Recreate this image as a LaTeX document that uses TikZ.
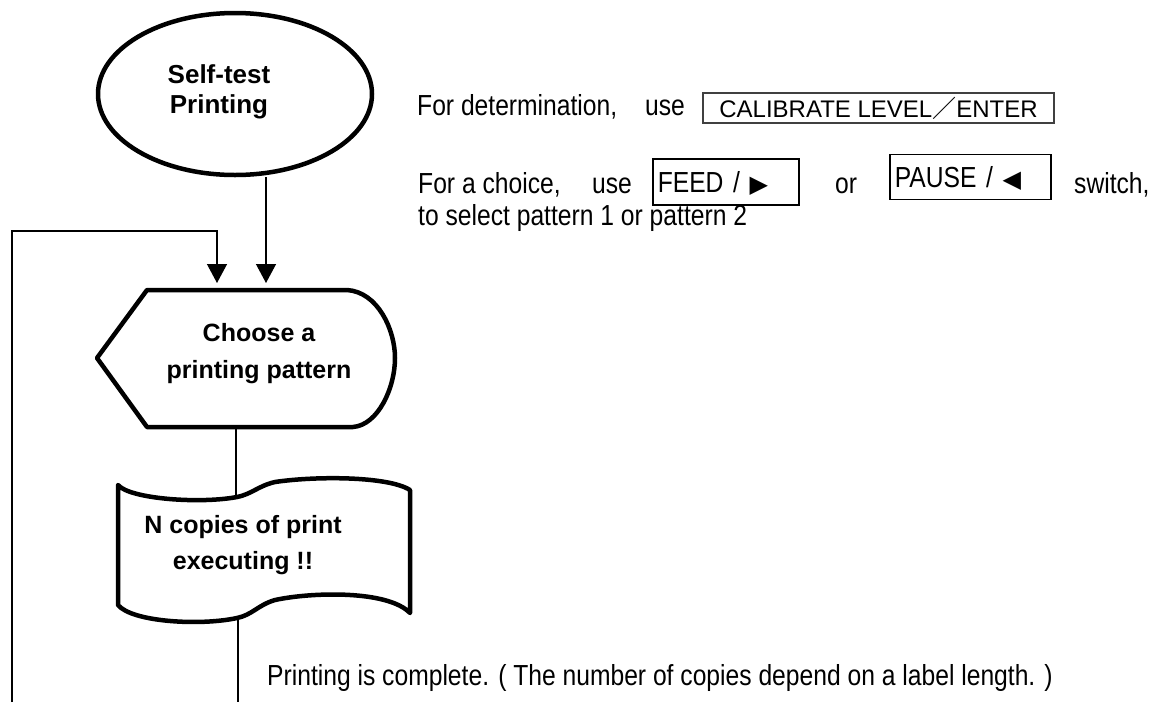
\documentclass[tikz,border=0pt]{standalone}
\usepackage{fontspec}
\setmainfont{Liberation Sans}
\newfontfamily\narrowfont[FakeStretch=0.85]{Liberation Sans}
\newfontfamily\cjkfont{Noto Sans CJK JP}
\newfontfamily\symfont{DejaVu Sans}
\usetikzlibrary{shapes.geometric,arrows.meta}

\tikzset{
  flow/.style={line width=1.3pt, -{Triangle[width=20pt,length=19pt]}},
  link/.style={line width=1.3pt},
  outline/.style={line width=4.5pt, line join=round},
  boldtxt/.style={font=\fontsize{25}{37}\selectfont\bfseries, align=center, inner sep=0pt},
  plaintxt/.style={font=\narrowfont\fontsize{29}{32}\selectfont, anchor=base west, inner sep=0pt},
  keybox/.style={draw, line width=1.5pt, anchor=west, inner xsep=5pt, inner ysep=0pt,
    text height=21pt, text depth=0pt, align=left, font=\narrowfont\fontsize{29}{32}\selectfont},
}

\begin{document}
\begin{tikzpicture}[x=1pt, y=-1pt]
	\useasboundingbox (0,0) rectangle (1159,702);
	% Start
	\node[ellipse, draw, outline, minimum width=274pt, minimum height=162pt] (selftest) at (235,94) {};
	\node[boldtxt, font=\fontsize{26}{30}\selectfont\bfseries] (selftestlbl) at (219,92) {Self-test\\Printing};
	% Choice
	\draw[outline] (147,290) -- (347,290) .. controls (378,292) and (395,330) .. (395,358)
		.. controls (395,388) and (378,425) .. (353,427) -- (147,427) -- (97,358) -- cycle;
	\node[boldtxt] (choose) at (259,354) {Choose a\\printing pattern};
	\coordinate (choosein) at (266,283);
	\coordinate (loopin) at (217,283);
	\coordinate (chooseout) at (236,427);
	% Print
	\draw[outline] (118,485) .. controls (130,499) and (200,504) .. (237,497)
		.. controls (252,494) and (258,486) .. (275,482) .. controls (315,476) and (388,476) .. (410,490)
		-- (410,613) .. controls (388,590) and (312,592) .. (275,600)
		.. controls (258,605) and (252,615) .. (237,618) .. controls (200,626) and (132,622) .. (118,605) -- cycle;
	\node[boldtxt, font=\fontsize{25}{36}\selectfont\bfseries] (print) at (243,545) {N copies of print\\executing !!};
	\coordinate (printin) at (236,499);
	\coordinate (printout) at (238,619);
	\coordinate (bottom) at (238,702);
	% Loop
	\coordinate (loopfoot) at (12,702);
	\coordinate (loopcorner) at (12,231);
	% Edges
	\draw[flow] (selftest.south -| choosein) -- (choosein);
	\draw[flow] (loopfoot) -- (loopcorner) -| (loopin);
	\draw[link] (chooseout) -- (printin);
	\draw[link] (printout) -- (bottom);
	% Notes
	\node[plaintxt] (determ) at (417,115) {For determination,};
	\node[plaintxt] (use1) at (645,115) {use};
	\node[draw=black!75, line width=2pt, anchor=west, inner xsep=15pt, inner ysep=0pt,
		minimum width=351pt, minimum height=30pt, font=\fontsize{24}{24}\selectfont] (enterkey) at (702,108)
		{CALIBRATE LEVEL{\cjkfont ／}ENTER};
	\node[plaintxt] (choice) at (418,193) {For a choice,};
	\node[plaintxt] (use2) at (592,193) {use};
	\node[keybox, minimum width=146pt, minimum height=46pt, text width=136pt] (feedkey) at (652,182)
		{FEED / {\symfont\fontsize{24}{24}\selectfont ▶}};
	\node[plaintxt] (or) at (835,193) {or};
	\node[keybox, minimum width=161pt, minimum height=45pt, text width=151pt] (pausekey) at (889,177)
		{PAUSE / {\symfont\fontsize{24}{24}\selectfont ◀}};
	\node[plaintxt] (switch) at (1074,193) {switch,};
	\node[plaintxt] (select) at (418,225) {to select pattern 1 or pattern 2};
	\node[plaintxt] (complete) at (267,685) {Printing is complete. ( The number of copies depend on a label length. )};
\end{tikzpicture}
\end{document}
